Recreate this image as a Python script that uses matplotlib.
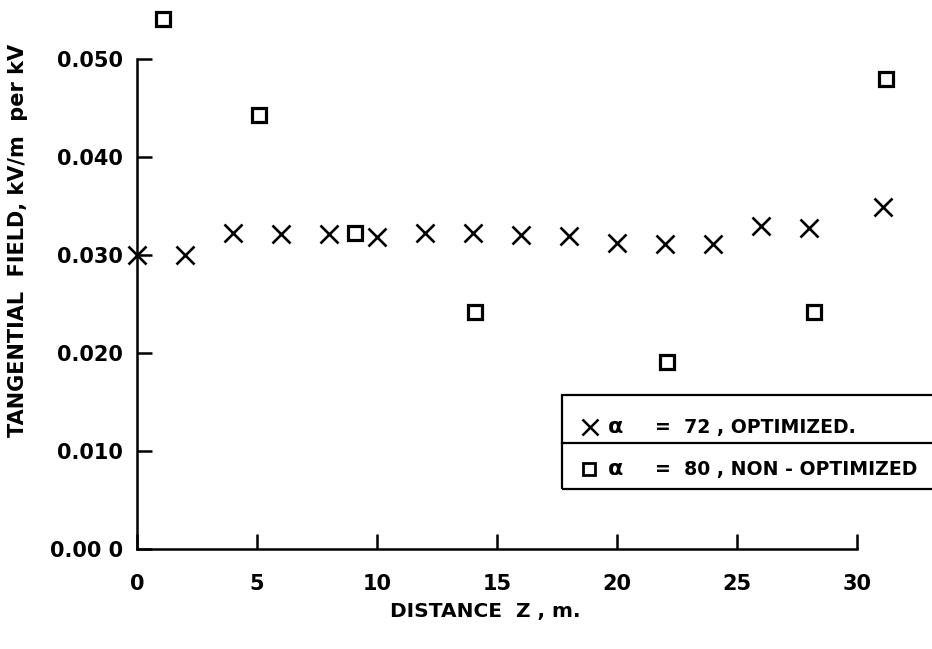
import matplotlib
matplotlib.use("Agg")
import matplotlib.pyplot as plt
from matplotlib.patches import Rectangle
from matplotlib.lines import Line2D

# ---- data ----
opt_z = [0, 2, 4, 6, 8, 10, 12, 14, 16, 18, 20, 22, 24, 26, 28, 31.1]
opt_field = [0.0300, 0.0300, 0.0322, 0.0321, 0.0321, 0.0318, 0.0322, 0.0322,
             0.0320, 0.0319, 0.0312, 0.0311, 0.0311, 0.0330, 0.0328, 0.0349]

nonopt_z = [1.1, 5.1, 9.1, 14.1, 22.1, 28.2, 31.2]
nonopt_field = [0.0541, 0.0443, 0.0322, 0.0242, 0.0191, 0.0242, 0.0480]

xticks = [0, 5, 10, 15, 20, 25, 30]
xtick_labels = ["0", "5", "10", "15", "20", "25", "30"]
yticks = [0.0, 0.01, 0.02, 0.03, 0.04, 0.05]
ytick_labels = ["0.00 0", "0.010", "0.020", "0.030", "0.040", "0.050"]

legend_rows = ["=  72 , OPTIMIZED.", "=  80 , NON - OPTIMIZED"]

W, H = 932, 649
fig = plt.figure(figsize=(W / 100, H / 100), dpi=100)
left, bottom_px = 137, 549
ax = fig.add_axes([left / W, (H - bottom_px) / H, (W - left) / W, bottom_px / H])
ax.set_xlim(0, (W - left) / 24.0)
ax.set_ylim(0, bottom_px / 9800.0)

ax.plot(opt_z, opt_field, linestyle="none", marker="x", markersize=12.5,
        markeredgewidth=1.9, color="black", clip_on=False, zorder=3)
ax.plot(nonopt_z, nonopt_field, linestyle="none", marker="s", markersize=10.5,
        markeredgewidth=2.3, markerfacecolor="white", markeredgecolor="black",
        clip_on=False, zorder=3)

for s in ["top", "right"]:
    ax.spines[s].set_visible(False)
ax.spines["left"].set_bounds(0, 0.05)
ax.spines["bottom"].set_bounds(0, 30)
for s in ["left", "bottom"]:
    ax.spines[s].set_linewidth(1.8)

ax.set_xticks(xticks)
ax.set_xticklabels(xtick_labels)
ax.set_yticks(yticks)
ax.set_yticklabels(ytick_labels)
ax.tick_params(axis="both", direction="in", length=11, width=1.8,
               labelsize=15)
ax.tick_params(axis="y", pad=10)
ax.tick_params(axis="x", pad=18)
for lab in ax.get_xticklabels() + ax.get_yticklabels():
    lab.set_fontweight("bold")

ax.set_xlabel("DISTANCE  Z , m.", fontsize=14.5, fontweight="bold")
ax.xaxis.set_label_coords((485 - left) / (W - left), (bottom_px - 612) / bottom_px)
ax.xaxis.label.set_va("center")
ax.set_ylabel("TANGENTIAL  FIELD, kV/m  per kV", fontsize=15, fontweight="bold")
ax.yaxis.set_label_coords((18 - left) / (W - left), (bottom_px - 240) / bottom_px)
ax.yaxis.label.set_va("center")

# ---- boxed legend ----
def fx(px):
    return px / W

def fy(py):
    return 1 - py / H

box = Rectangle((fx(562), fy(489)), fx(950) - fx(562), fy(395) - fy(489),
                transform=fig.transFigure, fill=False, linewidth=1.6,
                edgecolor="black", clip_on=False)
fig.add_artist(box)
fig.add_artist(Line2D([fx(562), fx(950)], [fy(443), fy(443)],
                      transform=fig.transFigure, color="black", linewidth=1.6))
fig.add_artist(Line2D([fx(590)], [fy(427)], transform=fig.transFigure,
                      linestyle="none", marker="x", markersize=11,
                      markeredgewidth=1.8, color="black"))
fig.add_artist(Line2D([fx(589)], [fy(469)], transform=fig.transFigure,
                      linestyle="none", marker="s", markersize=9,
                      markeredgewidth=2.0, markerfacecolor="white",
                      markeredgecolor="black"))
for row_y, txt in zip([427, 469], legend_rows):
    fig.text(fx(608), fy(row_y), "α", fontsize=16, fontweight="bold",
             ha="left", va="center")
    fig.text(fx(655), fy(row_y), txt, fontsize=13.6, fontweight="bold",
             ha="left", va="center")

fig.savefig("out.png", dpi=100)
